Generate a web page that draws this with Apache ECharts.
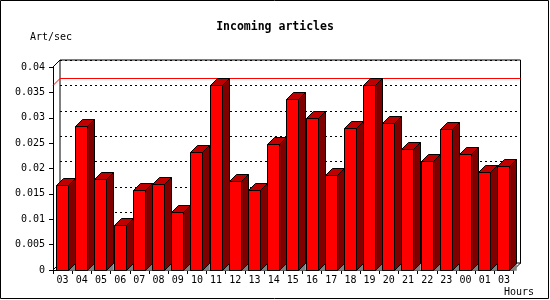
<!DOCTYPE html>
<html>
<head>
<meta charset="utf-8">
<script src="https://cdn.jsdelivr.net/npm/echarts@6/dist/echarts.min.js"></script>
<style>html,body{margin:0;padding:0;background:#fff}#c{width:550px;height:300px}</style>
</head>
<body>
<div id="c"></div>
<script>
const categories = ['03','04','05','06','07','08','09','10','11','12','13','14','15','16','17','18','19','20','21','22','23','00','01','03'];
const values = [0.0167,0.0282,0.0179,0.0087,0.0156,0.0169,0.0114,0.0232,0.0363,0.0175,0.0156,0.0248,0.0335,0.0298,0.0187,0.0278,0.0363,0.0288,0.0237,0.0213,0.0276,0.0227,0.0193,0.0203];
const yTicks = [0,0.005,0.01,0.015,0.02,0.025,0.03,0.035,0.04];
const titleText = 'Incoming articles';
const yName = 'Art/sec';
const xName = 'Hours';
const maxValue = Math.max(...values);

const D = 7;
const FONT = '"DejaVu Sans Mono", "Liberation Mono", monospace';
const chart = echarts.init(document.getElementById('c'), null, {renderer:'canvas'});

function fmt(v){ return v === 0 ? '0' : String(+v.toFixed(3)); }
function px(v){ return Math.round(v - 0.5) + 0.5; }

const option = {
  animation:false,
  backgroundColor:'#ffffff',
  grid:[
    {left:53, right:36.5, top:67, bottom:30},
    {left:53+D, right:36.5-D, top:67-D, bottom:30+D, show:true, borderColor:'#000', borderWidth:1, backgroundColor:'transparent'}
  ],
  xAxis:[
    {type:'category', gridIndex:0, data:categories,
     axisLine:{lineStyle:{color:'#000',width:1}},
     axisTick:{show:true, length:4, lineStyle:{color:'#000'}},
     axisLabel:{color:'#000', fontFamily:FONT, fontSize:10, margin:5, interval:0},
     splitLine:{show:false}},
    {type:'category', gridIndex:1, data:categories, show:false}
  ],
  yAxis:[
    {type:'value', gridIndex:0, min:0, max:0.04, interval:0.005,
     axisLine:{show:true, lineStyle:{color:'#000',width:1}},
     axisTick:{show:true, length:4, lineStyle:{color:'#000'}},
     axisLabel:{color:'#000', fontFamily:FONT, fontSize:10, margin:8, formatter:fmt},
     splitLine:{show:false}},
    {type:'value', gridIndex:1, min:0, max:0.04, interval:0.005,
     axisLine:{show:false}, axisTick:{show:false}, axisLabel:{show:false},
     splitLine:{show:true, lineStyle:{color:'#000', width:1, type:[2,3]}}}
  ],
  series:[
    {
      type:'custom', xAxisIndex:0, yAxisIndex:0, z:1, silent:true,
      data:[[0, maxValue]],
      renderItem:function(params, api){
        const cs = params.coordSys;
        const y = px(api.coord([0, api.value(1)])[1]);
        const y0 = api.coord([0, 0])[1];
        const yTop = api.coord([0, 0.04])[1];
        const L = cs.x, R = cs.x + cs.width;
        return {type:'group', children:[
          {type:'polyline', shape:{points:[[L, y],[L+D, y-D],[R+D, y-D]]}, style:{stroke:'#ff0000', lineWidth:1, fill:null}},
          {type:'line', shape:{x1:L, y1:yTop, x2:L+D, y2:yTop-D}, style:{stroke:'#000', lineWidth:1}},
          {type:'line', shape:{x1:L, y1:y0, x2:L+D, y2:y0-D}, style:{stroke:'#000', lineWidth:1}},
          {type:'line', shape:{x1:R, y1:y0, x2:R+D, y2:y0-D}, style:{stroke:'#000', lineWidth:1}}
        ]};
      }
    },
    {
      type:'custom', xAxisIndex:0, yAxisIndex:0, z:3, silent:true,
      data: values.map((v,i)=>[i, v]),
      renderItem:function(params, api){
        const i = api.value(0), v = api.value(1);
        const top = api.coord([i, v]);
        const base = api.coord([i, 0]);
        const bw = Math.round(api.size([1, 0])[0] * 0.6);
        const x0 = px(top[0] - bw/2), x1 = x0 + bw;
        const yt = px(top[1]), yb = px(base[1]);
        const s = {stroke:'#000', lineWidth:1};
        return {type:'group', children:[
          {type:'polygon', shape:{points:[[x1,yb],[x1+D,yb-D],[x1+D,yb]]}, style:{fill:'#808080', stroke:'#808080', lineWidth:0.5}},
          {type:'polygon', shape:{points:[[x1,yt],[x1+D,yt-D],[x1+D,yb-D],[x1,yb]]}, style:Object.assign({fill:'#800000'}, s)},
          {type:'polygon', shape:{points:[[x0,yt],[x0+D,yt-D],[x1+D,yt-D],[x1,yt]]}, style:Object.assign({fill:'#c00000'}, s)},
          {type:'rect', shape:{x:x0, y:yt, width:bw, height:yb-yt}, style:Object.assign({fill:'#ff0000'}, s)}
        ]};
      }
    }
  ],
  graphic:[
    {type:'rect', shape:{x:0.5, y:0.5, width:548, height:298}, style:{fill:null, stroke:'#000', lineWidth:1}, z:100},
    {type:'text', x:275, y:27, style:{text:titleText, fill:'#000', font:'bold 11.5px "DejaVu Sans Mono", monospace', align:'center', verticalAlign:'middle'}},
    {type:'text', x:30, y:37, style:{text:yName, fill:'#000', font:'10px "DejaVu Sans Mono", monospace', align:'left', verticalAlign:'middle'}},
    {type:'text', x:534, y:292, style:{text:xName, fill:'#000', font:'10px "DejaVu Sans Mono", monospace', align:'right', verticalAlign:'middle'}}
  ]
};
chart.setOption(option);
</script>
</body>
</html>
